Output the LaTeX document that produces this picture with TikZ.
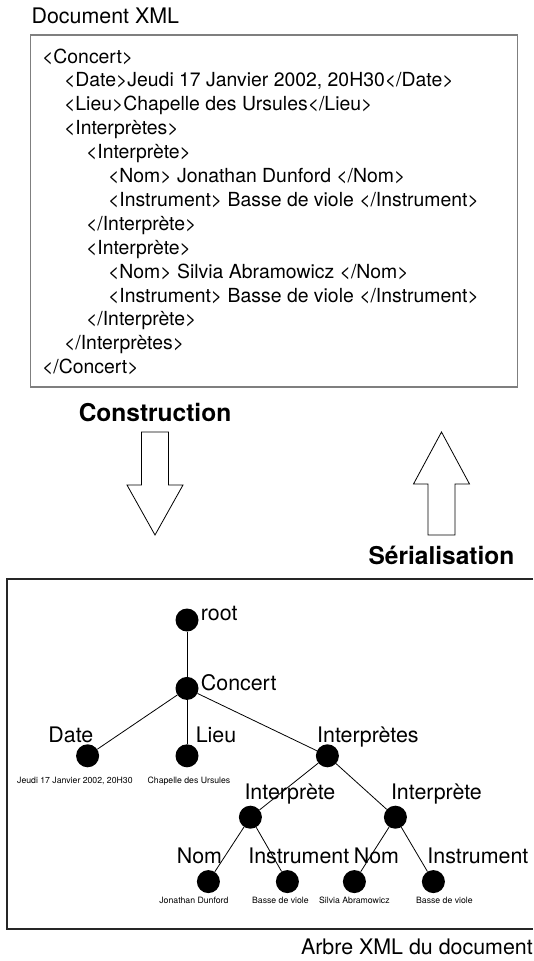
\documentclass[tikz,border=0pt]{standalone}
\usepackage{fontspec}
\setmainfont{TeX Gyre Heros}
\usepackage{xcolor}
\usepackage{tikz}
\usetikzlibrary{positioning}
\definecolor{boxline}{HTML}{7F7F7F}
\definecolor{frameline}{HTML}{262626}
\newlength\xmlstep
\setlength\xmlstep{22pt}

\begin{document}
\begin{tikzpicture}[
  x=1pt, y=1pt,
  xmlbox/.style={draw=boxline, line width=1.2pt, minimum width=487pt, minimum height=352pt, inner sep=0pt},
  listing/.style={inner sep=0pt, align=left, font=\fontsize{19.4}{23.9}\selectfont},
  title/.style={inner sep=0pt, font=\fontsize{21.4}{24}\selectfont},
  heading/.style={inner sep=0pt, font=\fontsize{24.5}{28}\selectfont\bfseries},
  blockarrow/.style={draw, line width=0.8pt, fill=white, line join=miter},
  dot/.style={circle, fill=black, inner sep=0pt, minimum size=23pt},
  tag/.style={inner sep=0pt, font=\fontsize{21.4}{24}\selectfont},
  val/.style={inner sep=0pt, font=\fontsize{8.7}{10}\selectfont},
  edge/.style={line width=0.8pt},
  treeframe/.style={draw=frameline, line width=1.2pt}
]
  \useasboundingbox (0,0) rectangle (533,-961);

  \node[xmlbox] (xmlbox) at (274,-211) {};
  \node[title, above=10pt of xmlbox.north west, anchor=south west, xshift=1.5pt] (doctitle) {Document XML};
  \node[listing, below right=14pt and 12pt of xmlbox.north west] (listing) {<Concert>\\
\hspace*{\xmlstep}<Date>Jeudi 17 Janvier 2002, 20H30</Date>\\
\hspace*{\xmlstep}<Lieu>Chapelle des Ursules</Lieu>\\
\hspace*{\xmlstep}<Interprètes>\\
\hspace*{2\xmlstep}<Interprète>\\
\hspace*{3\xmlstep}<Nom> Jonathan Dunford </Nom>\\
\hspace*{3\xmlstep}<Instrument> Basse de viole </Instrument>\\
\hspace*{2\xmlstep}</Interprète>\\
\hspace*{2\xmlstep}<Interprète>\\
\hspace*{3\xmlstep}<Nom> Silvia Abramowicz </Nom>\\
\hspace*{3\xmlstep}<Instrument> Basse de viole </Instrument>\\
\hspace*{2\xmlstep}</Interprète>\\
\hspace*{\xmlstep}</Interprètes>\\
</Concert>};

  \coordinate (downtop) at (155,-432);
  \coordinate (upbottom) at (441.5,-535);
  \node[heading, above=10pt of downtop] (construction) {Construction};
  \node[heading, below=11pt of upbottom] (serial) {Sérialisation};
  \draw[blockarrow] (downtop) ++(-13.5,0) -- ++(0,-53) -- ++(-14.5,0) -- ++(28,-50) -- ++(28,50) -- ++(-14.5,0) -- ++(0,53) -- cycle;
  \draw[blockarrow] (upbottom) ++(-13.5,0) -- ++(0,51) -- ++(-14.5,0) -- ++(28,52) -- ++(28,-52) -- ++(-14.5,0) -- ++(0,-51) -- cycle;

  \coordinate (framenw) at (7,-579);
  \coordinate (framese) at (533,-929);
  \draw[treeframe] (framese |- framenw) -- (framenw) |- (framese);
  \node[title, below=9.5pt of framese, anchor=north east] (caption) {Arbre XML du document};

  \node[dot] (root) at (187,-620) {};
  \node[dot, below=45pt of root] (concert) {};
  \node[dot, below=44pt of concert] (lieu) {};
  \node[dot, left=76pt of lieu] (date) {};
  \node[dot, right=117pt of lieu] (intps) {};
  \node[dot, below=38pt of intps, xshift=-77pt] (intp1) {};
  \node[dot, below=38pt of intps, xshift=68pt] (intp2) {};
  \node[dot, below=41pt of intp1, xshift=-42pt] (nom1) {};
  \node[dot, below=41pt of intp1, xshift=37pt] (instr1) {};
  \node[dot, below=41pt of intp2, xshift=-41pt] (nom2) {};
  \node[dot, below=41pt of intp2, xshift=38pt] (instr2) {};

  \draw[edge] (root) -- (concert);
  \draw[edge] (concert) -- (date);
  \draw[edge] (concert) -- (lieu);
  \draw[edge] (concert) -- (intps);
  \draw[edge] (intps) -- (intp1);
  \draw[edge] (intps) -- (intp2);
  \draw[edge] (intp1) -- (nom1);
  \draw[edge] (intp1) -- (instr1);
  \draw[edge] (intp2) -- (nom2);
  \draw[edge] (intp2) -- (instr2);

  \node[tag, right=2pt of root, anchor=base west] (rootlab) {root};
  \node[tag, right=2pt of concert, anchor=base west, yshift=-2pt] (concertlab) {Concert};
  \node[tag, above=1.5pt of date, anchor=base, xshift=-16.7pt] (datelab) {Date};
  \node[tag, above=1.5pt of lieu, anchor=base, xshift=29pt] (lieulab) {Lieu};
  \node[tag, above=1.5pt of intps, anchor=base, xshift=40.5pt] (intpslab) {Interprètes};
  \node[tag, above=6pt of intp1, anchor=base, xshift=39.5pt] (intp1lab) {Interprète};
  \node[tag, above=6pt of intp2, anchor=base, xshift=41pt] (intp2lab) {Interprète};
  \node[tag, above=6.5pt of nom1, anchor=base, xshift=-9pt] (nom1lab) {Nom};
  \node[tag, above=6.5pt of instr1, anchor=base, xshift=11.4pt] (instr1lab) {Instrument};
  \node[tag, above=6.5pt of nom2, anchor=base, xshift=22pt] (nom2lab) {Nom};
  \node[tag, above=6.5pt of instr2, anchor=base, xshift=44.5pt] (instr2lab) {Instrument};

  \node[val, below=9.5pt of date, xshift=-12.7pt] (dateval) {Jeudi 17 Janvier 2002, 20H30};
  \node[val, below=9.5pt of lieu, xshift=2pt] (lieuval) {Chapelle des Ursules};
  \node[val, below=3.5pt of nom1, xshift=-14.5pt] (nom1val) {Jonathan Dunford};
  \node[val, below=3.5pt of instr1, xshift=-7pt] (instr1val) {Basse de viole};
  \node[val, below=3.5pt of nom2] (nom2val) {Silvia Abramowicz};
  \node[val, below=3.5pt of instr2, xshift=11pt] (instr2val) {Basse de viole};
\end{tikzpicture}
\end{document}
